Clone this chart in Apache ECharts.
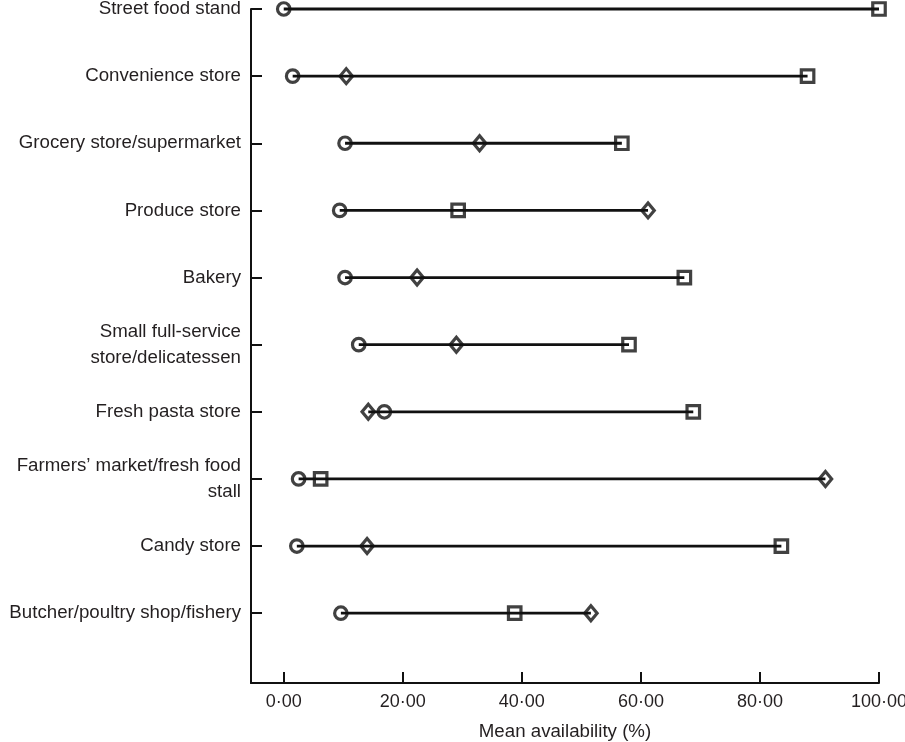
<!DOCTYPE html>
<html>
<head>
<meta charset="utf-8">
<script src="https://cdn.jsdelivr.net/npm/echarts@6/dist/echarts.min.js"></script>
<style>html,body{margin:0;padding:0;background:#fff;}#c{width:905px;height:742px;}</style>
</head>
<body>
<div id="c"></div>
<script>
// Categories from top to bottom
var categories = [
  'Street food stand',
  'Convenience store',
  'Grocery store/supermarket',
  'Produce store',
  'Bakery',
  'Small full-service\nstore/delicatessen',
  'Fresh pasta store',
  'Farmers\u2019 market/fresh food\nstall',
  'Candy store',
  'Butcher/poultry shop/fishery'
];
// Three marker series (mean availability %), same order as categories
var circleValues  = [0.0, 1.5, 10.3, 9.4, 10.3, 12.6, 16.9, 2.5, 2.2, 9.6];
var diamondValues = [null, 10.5, 32.9, 61.2, 22.4, 29.0, 14.2, 91.0, 14.0, 51.6];
var squareValues  = [100.0, 88.0, 56.8, 29.3, 67.3, 58.0, 68.8, 6.2, 83.6, 38.8];
var xTicks = [0, 20, 40, 60, 80, 100];

function yPos(i) { return categories.length - i; }
function toPoints(arr) {
  var out = [];
  arr.forEach(function (v, i) { if (v !== null) out.push([v, yPos(i)]); });
  return out;
}

var circleData = toPoints(circleValues);
var diamondData = toPoints(diamondValues);
var squareData = toPoints(squareValues);
var rangeData = categories.map(function (c, i) {
  var vals = [circleValues[i], diamondValues[i], squareValues[i]].filter(function (v) { return v !== null; });
  return [Math.min.apply(null, vals), Math.max.apply(null, vals), yPos(i)];
});
var yTicks = categories.map(function (c, i) { return yPos(i); });

var ink = '#111111';
var font = 'Liberation Sans, Arial, Helvetica, sans-serif';
var markerStyle = { color: 'rgba(0,0,0,0)', borderColor: ink, borderWidth: 3.2 };

var chart = echarts.init(document.getElementById('c'));
chart.setOption({
  animation: false,
  backgroundColor: '#fff',
  grid: { left: 251, right: 26, top: 9, bottom: 59, containLabel: false, outerBoundsMode: 'none' },
  xAxis: {
    type: 'value',
    min: -5.5,
    max: 100,
    name: 'Mean availability (%)',
    nameLocation: 'middle',
    nameGap: 39,
    nameTextStyle: { fontFamily: font, fontSize: 18.7, color: '#231f20' },
    axisLine: { show: true, onZero: false, lineStyle: { color: ink, width: 2 } },
    axisTick: { show: true, inside: true, length: 11, customValues: xTicks, lineStyle: { color: ink, width: 2 } },
    axisLabel: {
      customValues: xTicks,
      margin: 10,
      fontFamily: font, fontSize: 18, color: '#231f20',
      formatter: function (v) { return v.toFixed(2).replace('.', '\u00b7'); }
    },
    splitLine: { show: false }
  },
  yAxis: {
    type: 'value',
    min: -0.04,
    max: 10,
    axisLine: { show: true, onZero: false, lineStyle: { color: ink, width: 2 } },
    axisTick: { show: true, inside: true, length: 11, customValues: yTicks, lineStyle: { color: ink, width: 2 } },
    axisLabel: {
      customValues: yTicks,
      margin: 10,
      fontFamily: font, fontSize: 18.7, color: '#231f20',
      lineHeight: 26,
      align: 'right',
      formatter: function (v) { var i = categories.length - Math.round(v); return categories[i] || ''; }
    },
    splitLine: { show: false }
  },
  series: [
    {
      type: 'custom',
      data: rangeData,
      clip: false,
      renderItem: function (params, api) {
        var p1 = api.coord([api.value(0), api.value(2)]);
        var p2 = api.coord([api.value(1), api.value(2)]);
        return {
          type: 'line',
          shape: { x1: p1[0], y1: p1[1], x2: p2[0], y2: p2[1] },
          style: { stroke: ink, lineWidth: 2.8 }
        };
      },
      z: 1
    },
    { type: 'scatter', data: circleData, symbol: 'circle', symbolSize: 12.5, itemStyle: markerStyle, clip: false, z: 3 },
    { type: 'scatter', data: diamondData, symbol: 'diamond', symbolSize: [12.5, 15], itemStyle: markerStyle, clip: false, z: 3 },
    { type: 'scatter', data: squareData, symbol: 'rect', symbolSize: 12.5, itemStyle: markerStyle, clip: false, z: 3 }
  ]
});
</script>
</body>
</html>
